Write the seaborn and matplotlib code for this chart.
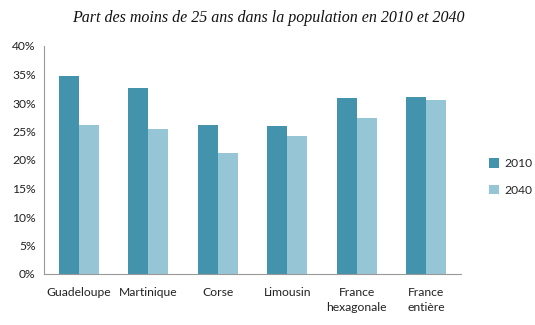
import matplotlib
matplotlib.use("Agg")
import matplotlib.pyplot as plt
import seaborn as sns
import pandas as pd
import numpy as np
from matplotlib.ticker import FuncFormatter, FixedLocator

categories = ["Guadeloupe", "Martinique", "Corse", "Limousin", "France\nhexagonale", "France\nentière"]
values_2010 = [34.7, 32.7, 26.1, 25.9, 30.8, 31.0]
values_2040 = [26.2, 25.5, 21.2, 24.2, 27.4, 30.5]
series = ["2010", "2040"]
colors = ["#4493AD", "#96C5D6"]

df = pd.DataFrame({
    "cat": categories * 2,
    "year": [series[0]] * len(categories) + [series[1]] * len(categories),
    "val": values_2010 + values_2040,
})

sns.set_style("white")
plt.rcParams["font.family"] = ["Lato", "DejaVu Sans"]

fig = plt.figure(figsize=(5.35, 3.25), dpi=100)
ax = fig.add_axes([44/535, (325-274)/325, (461-44)/535, (274-46)/325])

sns.barplot(data=df, x="cat", y="val", hue="year", palette=colors, width=0.58,
            saturation=1, ax=ax, legend=False, edgecolor=None, linewidth=0)

ax.set_ylim(0, 40)
ax.set_xlim(-0.5, len(categories) - 0.5)
ax.yaxis.set_major_locator(FixedLocator(np.arange(0, 41, 5)))
ax.yaxis.set_major_formatter(FuncFormatter(lambda v, p: f"{int(v)}%"))
ax.set_xlabel("")
ax.set_ylabel("")
ax.set_xticks(range(len(categories)))
ax.set_xticklabels(categories, fontsize=8.7, color="#222222", linespacing=1.55)
ax.tick_params(axis="x", which="major", length=0, pad=9)
ax.set_xticks(np.arange(-0.5, len(categories), 1), minor=True)
ax.tick_params(axis="x", which="minor", length=4, color="#999999", width=0.8, direction="out")
ax.tick_params(axis="y", length=4, color="#999999", width=0.8, direction="out", labelsize=8.7,
               labelcolor="#222222", pad=2)

for s in ["top", "right"]:
    ax.spines[s].set_visible(False)
for s in ["left", "bottom"]:
    ax.spines[s].set_color("#999999")
    ax.spines[s].set_linewidth(0.8)

handles = [plt.Rectangle((0, 0), 1, 1, facecolor=c, edgecolor="none") for c in colors]
fig.legend(handles, series, loc="center left", bbox_to_anchor=(478/535, 1 - 177/325),
           frameon=False, fontsize=8.7, handlelength=0.8, handleheight=0.8,
           labelspacing=1.3, handletextpad=0.5)

fig.text(268/535, 1 - 18/325, "Part des moins de 25 ans dans la population en 2010 et 2040",
         ha="center", va="center", fontsize=11.5, style="italic",
         family=["Liberation Serif", "DejaVu Serif"], color="#111111")

fig.savefig("out.png", dpi=100)
